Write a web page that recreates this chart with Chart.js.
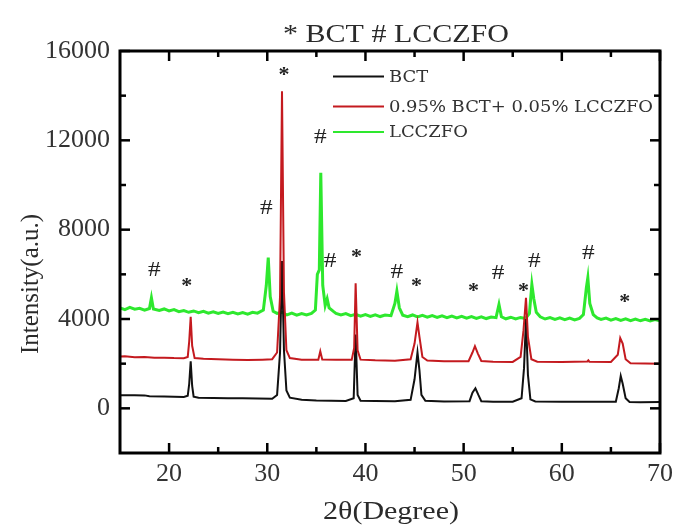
<!DOCTYPE html>
<html>
<head>
<meta charset="utf-8">
<script src="https://cdn.jsdelivr.net/npm/chart.js@4.4.1/dist/chart.umd.min.js"></script>
<style>
  html, body { margin: 0; padding: 0; background: #fff; }
  #wrap { width: 679px; height: 526px; }
</style>
</head>
<body>
<div id="wrap"><canvas id="c" width="679" height="526"></canvas></div>
<script>
// ---------- DATA ----------
const chartTitle = "* BCT # LCCZFO";
const xAxisTitle = "2θ(Degree)";
const yAxisTitle = "Intensity(a.u.)";
const seriesNames = ["BCT", "0.95% BCT+ 0.05% LCCZFO", "LCCZFO"];

const angleBCT = [15.0,16.5,17.5,18.0,19.5,20.5,21.5,21.9,22.05,22.2,22.35,22.5,23.0,24.5,26.0,27.5,29.0,30.5,31.0,31.3,31.5,31.7,31.95,32.3,33.5,35.0,36.5,38.0,38.8,39.0,39.2,39.5,41.0,43.0,44.6,45.0,45.3,45.5,45.7,46.1,48.0,50.6,50.9,51.2,51.5,51.8,53.0,55.0,55.9,56.15,56.35,56.55,56.8,57.3,60.0,62.5,65.5,65.8,66.0,66.2,66.5,66.9,68.0,70.0];
const intensityBCT = [590,585,580,540,530,520,510,560,1100,2100,1000,520,470,460,450,455,440,430,600,2500,6600,2600,800,480,380,350,340,330,450,3300,600,340,330,320,380,1300,2500,1700,600,340,310,320,700,900,600,320,300,300,450,1800,4000,1500,400,310,300,290,300,900,1450,1100,450,280,270,280];

const angleMix = [15.0,15.5,16.5,17.5,18.5,19.5,20.5,21.5,21.9,22.05,22.2,22.35,22.6,23.5,25.0,26.5,28.0,29.5,30.5,31.0,31.3,31.5,31.7,31.95,32.3,33.5,35.2,35.4,35.6,37.0,38.6,38.85,39.0,39.2,39.5,41.0,43.0,44.6,45.0,45.3,45.5,45.8,46.3,48.0,50.5,50.9,51.15,51.45,51.8,53.0,55.0,55.8,56.1,56.35,56.55,56.9,57.5,60.0,62.6,62.7,62.8,65.0,65.7,65.95,66.2,66.5,67.0,68.5,70.0];
const intensityMix = [2320,2330,2290,2300,2260,2270,2250,2240,2300,3000,4100,2800,2250,2220,2200,2180,2160,2180,2200,2500,5000,14200,5200,2600,2250,2180,2180,2550,2190,2170,2170,2700,5600,2600,2180,2150,2130,2200,2900,3850,3200,2300,2140,2110,2110,2500,2780,2450,2120,2090,2080,2300,3500,4950,3200,2200,2090,2080,2100,2150,2090,2080,2400,3150,2900,2200,2020,2010,2000];

const angleLCCZFO = [15.0,15.5,16.0,16.5,17.0,17.5,18.0,18.2,18.4,19.0,19.5,20.0,20.5,21.0,21.5,22.0,22.5,23.0,23.5,24.0,24.5,25.0,25.5,26.0,26.5,27.0,27.5,28.0,28.5,29.0,29.6,29.9,30.1,30.3,30.6,31.0,31.5,32.0,32.5,33.0,33.5,34.0,34.5,34.9,35.1,35.3,35.45,35.65,35.9,36.1,36.3,36.7,37.0,37.5,38.0,38.5,39.0,39.5,40.0,40.5,41.0,41.5,42.0,42.6,43.0,43.2,43.45,43.8,44.3,44.8,45.3,45.8,46.3,46.8,47.3,47.8,48.3,48.8,49.3,49.8,50.3,50.8,51.3,51.8,52.3,52.8,53.3,53.6,53.85,54.3,54.8,55.3,55.8,56.3,56.7,56.95,57.15,57.4,57.8,58.3,58.8,59.3,59.8,60.3,60.8,61.3,61.8,62.2,62.5,62.65,62.85,63.2,63.6,64.0,64.5,65.0,65.5,66.0,66.5,67.0,67.5,68.0,68.5,69.0,69.5,70.0];
const intensityLCCZFO = [4500,4420,4520,4440,4480,4400,4470,4950,4450,4380,4450,4360,4420,4330,4380,4300,4360,4280,4340,4260,4320,4250,4310,4240,4300,4230,4290,4220,4300,4260,4400,5500,6750,5000,4350,4250,4300,4180,4260,4170,4240,4180,4250,4400,6000,6200,10550,5500,4600,4900,4500,4350,4250,4180,4240,4150,4210,4130,4200,4120,4190,4110,4180,4150,4700,5250,4500,4170,4100,4180,4090,4160,4080,4150,4070,4140,4060,4130,4050,4120,4040,4110,4030,4100,4020,4090,4060,4650,4100,4010,4080,4000,4070,4020,4250,5550,4900,4300,4100,4000,4060,3980,4050,3970,4040,3960,4030,4200,5400,5850,4700,4200,4050,3980,4040,3950,4020,3940,4010,3930,4000,3920,3990,3910,3980,3920];

// phase markers above peaks
const markerAngle = [18.5,21.8,29.9,31.7,35.4,36.4,39.1,43.2,45.2,51.0,53.5,56.1,57.2,62.7,66.4];
const markerIntensity = [6200,5600,8950,15050,12150,6600,6900,6100,5600,5400,6050,5400,6600,6950,4900];
const markerSymbol = ["#","*","#","*","#","#","*","#","*","*","#","*","#","#","*"];

const xTickValues = [20,30,40,50,60,70];
const xMinorValues = [25,35,45,55,65];
const yTickValues = [0,4000,8000,12000,16000];
const yMinorValues = [2000,6000,10000,14000];

// ---------- STYLE ----------
const colBCT = "#111111";
const colMix = "#c41a1f";
const colLCC = "#2ee82e";
const serif = "'Liberation Serif', 'Times New Roman', serif";
const textCol = '#2a2a2a';
const stretch = 1.2; // reference text is horizontally wide

function pts(a, b) { return a.map((x, i) => ({ x: x, y: b[i] })); }

function wideText(c, txt, x, y, font, align, sx) {
  c.save();
  c.font = font;
  c.textBaseline = 'middle';
  c.textAlign = align;
  c.translate(x, y);
  c.scale(sx, 1);
  c.fillText(txt, 0, 0);
  c.restore();
}

const whiteBg = {
  id: 'whiteBg',
  beforeDraw(chart) {
    const c = chart.ctx;
    c.save(); c.fillStyle = '#fff'; c.fillRect(0, 0, chart.width, chart.height); c.restore();
  }
};

const frameTicks = {
  id: 'frameTicks',
  afterDatasetsDraw(chart) {
    const c = chart.ctx, a = chart.chartArea;
    const xs = chart.scales.x, ys = chart.scales.y;
    c.save();
    c.strokeStyle = '#000';
    c.lineCap = 'butt';
    c.lineWidth = 2.5;
    const tk = (vals, len) => {
      vals.forEach(v => {
        const px = xs.getPixelForValue(v);
        c.beginPath(); c.moveTo(px, a.bottom); c.lineTo(px, a.bottom - len); c.stroke();
        c.beginPath(); c.moveTo(px, a.top); c.lineTo(px, a.top + len); c.stroke();
      });
    };
    const tky = (vals, len) => {
      vals.forEach(v => {
        const py = ys.getPixelForValue(v);
        c.beginPath(); c.moveTo(a.left, py); c.lineTo(a.left + len, py); c.stroke();
        c.beginPath(); c.moveTo(a.right, py); c.lineTo(a.right - len, py); c.stroke();
      });
    };
    tk(xTickValues, 10); tk(xMinorValues, 6);
    tky(yTickValues, 10); tky(yMinorValues, 6);
    c.lineWidth = 3;
    c.strokeRect(a.left, a.top, a.right - a.left, a.bottom - a.top);
    c.restore();
  }
};

const markers = {
  id: 'markers',
  afterDatasetsDraw(chart) {
    const c = chart.ctx;
    const xs = chart.scales.x, ys = chart.scales.y;
    c.save();
    c.fillStyle = '#222';
    markerAngle.forEach((ang, i) => {
      const px = xs.getPixelForValue(ang), py = ys.getPixelForValue(markerIntensity[i]);
      if (markerSymbol[i] === '#') {
        wideText(c, '#', px, py, "22px " + serif, 'center', 1.15);
      } else {
        wideText(c, '*', px, py + 4, "bold 20px " + serif, 'center', 1.1);
      }
    });
    c.restore();
  }
};

const texts = {
  id: 'texts',
  afterDraw(chart) {
    const c = chart.ctx;
    const a = chart.chartArea;
    c.save();
    c.fillStyle = textCol;
    // chart title
    wideText(c, chartTitle, (a.left + a.right) / 2 + 6, 35, "25px " + serif, 'center', stretch);
    // x axis title
    wideText(c, xAxisTitle, (a.left + a.right) / 2 + 1, 512, "25px " + serif, 'center', stretch);
    // y axis title (rotated)
    c.save();
    c.translate(31, 284);
    c.rotate(-Math.PI / 2);
    c.font = "25px " + serif;
    c.textAlign = 'center';
    c.textBaseline = 'middle';
    c.fillText(yAxisTitle, 0, 0);
    c.restore();
    // legend inside the plot
    const rows = [76.5, 106.5, 132];
    const cols = [colBCT, colMix, colLCC];
    seriesNames.forEach((name, i) => {
      c.strokeStyle = cols[i];
      c.lineWidth = 2;
      c.beginPath(); c.moveTo(333, rows[i]); c.lineTo(384, rows[i]); c.stroke();
      c.fillStyle = '#333';
      wideText(c, name, 389, rows[i] + 1, "16px 'DejaVu Serif', serif", 'left', 1.12);
    });
    c.restore();
  }
};

new Chart(document.getElementById('c'), {
  type: 'scatter',
  data: {
    datasets: [
      { label: seriesNames[1], data: pts(angleMix, intensityMix), showLine: true, borderColor: colMix, borderWidth: 2, pointRadius: 0, tension: 0, order: 0 },
      { label: seriesNames[0], data: pts(angleBCT, intensityBCT), showLine: true, borderColor: colBCT, borderWidth: 2, pointRadius: 0, tension: 0, order: 1 },
      { label: seriesNames[2], data: pts(angleLCCZFO, intensityLCCZFO), showLine: true, borderColor: colLCC, borderWidth: 3, pointRadius: 0, tension: 0, order: 2 }
    ]
  },
  options: {
    responsive: false,
    animation: false,
    devicePixelRatio: 1,
    layout: { padding: { left: 0, right: 17, top: 51, bottom: 0 } },
    plugins: {
      legend: { display: false },
      tooltip: { enabled: false },
      title: { display: false }
    },
    scales: {
      x: {
        type: 'linear',
        min: 15, max: 70,
        afterBuildTicks: (s) => { s.ticks = xTickValues.map(v => ({ value: v })); },
        afterFit: (s) => { s.height = 73; },
        grid: { display: false, drawTicks: false },
        border: { display: false },
        ticks: { font: { family: serif, size: 26 }, color: '#333', padding: 6, maxRotation: 0, callback: (v) => String(v) }
      },
      y: {
        type: 'linear',
        min: -2000, max: 16000,
        afterBuildTicks: (s) => { s.ticks = yTickValues.map(v => ({ value: v })); },
        afterFit: (s) => { s.width = 120; },
        grid: { display: false, drawTicks: false },
        border: { display: false },
        ticks: { font: { family: serif, size: 26 }, color: '#333', padding: 10, callback: (v) => String(v) }
      }
    }
  },
  plugins: [whiteBg, frameTicks, markers, texts]
});
</script>
</body>
</html>
